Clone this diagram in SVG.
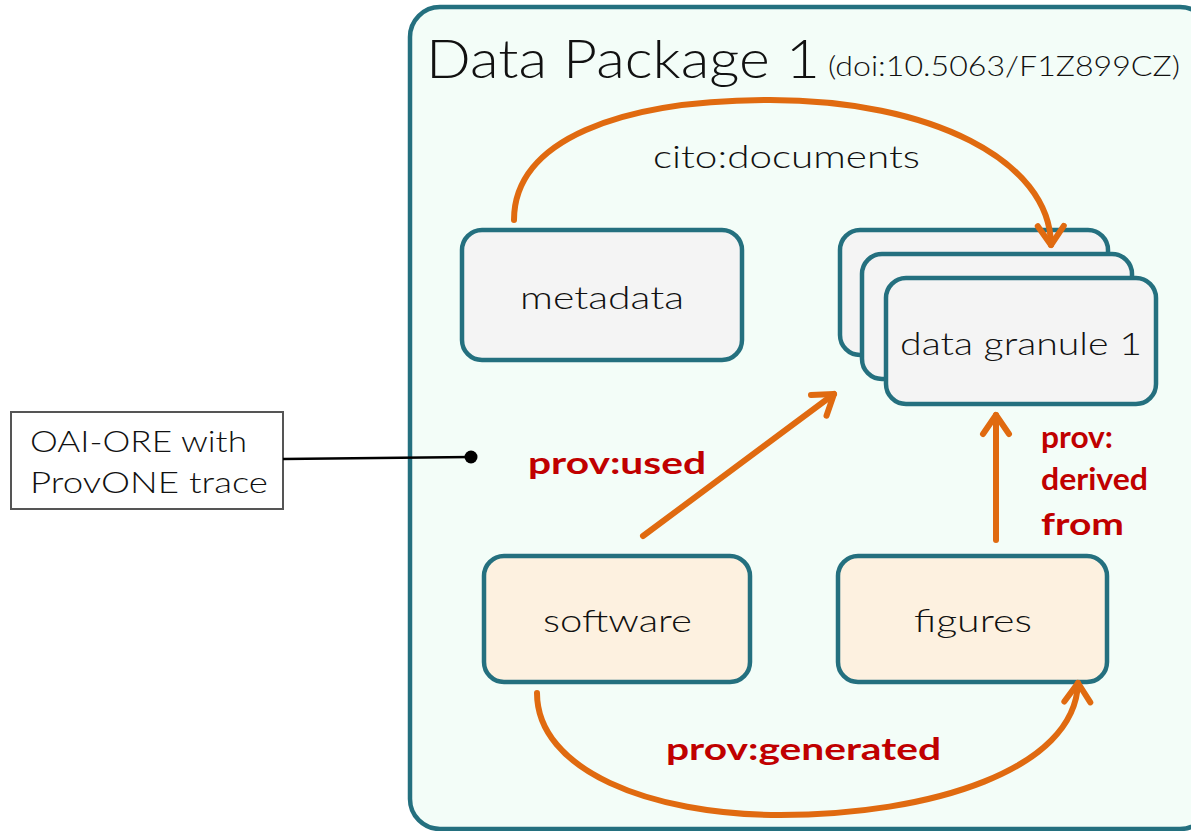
<svg xmlns="http://www.w3.org/2000/svg" width="1191" height="831" viewBox="0 0 1191 831">
<style>
.node{stroke:#24707f;stroke-width:4.5}
.gray{fill:#f4f4f4}
.cream{fill:#fdf1e0}
.t{font-family:Lato,"Open Sans","Liberation Sans",sans-serif;fill:#111;font-weight:300}
.lbl{font-family:Lato,"Open Sans","Liberation Sans",sans-serif;fill:#c00000;font-weight:bold;font-size:31px}
.arr{fill:none;stroke:#e06a10;stroke-width:6;stroke-linecap:round}
</style>
<defs>
<marker id="ah" markerUnits="userSpaceOnUse" markerWidth="40" markerHeight="40" viewBox="-25 -20 30 40" refX="0" refY="0" orient="auto">
<path d="M-19,-13 L0,0 L-19,13" fill="none" stroke="#e06a10" stroke-width="6" stroke-linecap="round" stroke-linejoin="round"/>
</marker>
</defs>
<g id="package">
<rect x="410" y="7" width="800" height="822" rx="30" fill="#f3fdf8" stroke="#24707f" stroke-width="4.5"/>
<text class="t" x="426" y="78" font-size="54" textLength="394" lengthAdjust="spacingAndGlyphs">Data Package 1</text>
<text class="t" x="828" y="76" font-size="27" textLength="352" lengthAdjust="spacingAndGlyphs">(doi:10.5063/F1Z899CZ)</text>
</g>
<g id="metadata">
<rect class="node gray" x="462" y="230" width="280" height="130" rx="20"/>
<text class="t" x="520" y="309" font-size="32" textLength="164" lengthAdjust="spacingAndGlyphs">metadata</text>
</g>
<g id="granule">
<rect class="node gray" x="840" y="230" width="268" height="125" rx="20"/>
<rect class="node gray" x="862" y="254" width="270" height="125" rx="20"/>
<rect class="node gray" x="886" y="278" width="270" height="126" rx="20"/>
<text class="t" x="900" y="355" font-size="32" textLength="242" lengthAdjust="spacingAndGlyphs">data granule 1</text>
</g>
<g id="software">
<rect class="node cream" x="484" y="556" width="266" height="126" rx="20"/>
<text class="t" x="543" y="632" font-size="32" textLength="149" lengthAdjust="spacingAndGlyphs">software</text>
</g>
<g id="figures">
<rect class="node cream" x="838" y="556" width="269" height="126" rx="20"/>
<text class="t" x="914" y="632" font-size="32" textLength="118" lengthAdjust="spacingAndGlyphs">figures</text>
</g>
<g id="note">
<rect x="11" y="412" width="272" height="97" fill="#fff" stroke="#555" stroke-width="2"/>
<text class="t" x="30" y="452" font-size="30" textLength="217" lengthAdjust="spacingAndGlyphs">OAI-ORE with</text>
<text class="t" x="30" y="493" font-size="30" textLength="238" lengthAdjust="spacingAndGlyphs">ProvONE trace</text>
</g>
<g id="connectors">
<line x1="283" y1="459" x2="471" y2="457" stroke="#000" stroke-width="2.5"/>
<circle cx="471" cy="457" r="6.5" fill="#000"/>
<path class="arr" d="M514,220 C514,140 620,100 770,100 C930,100 1050,160 1051,245" marker-end="url(#ah)"/>
<path class="arr" d="M643,536 L834,394" marker-end="url(#ah)"/>
<path class="arr" d="M996,540 L996,415" marker-end="url(#ah)"/>
<path class="arr" d="M537,693 C537,770 650,815 780,815 C930,815 1075,770 1078,683" marker-end="url(#ah)"/>
<text class="t" x="653" y="168" font-size="31" textLength="267" lengthAdjust="spacingAndGlyphs">cito:documents</text>
<text class="lbl" x="528" y="474" textLength="178" lengthAdjust="spacingAndGlyphs">prov:used</text>
<text class="lbl" x="1041" y="448" textLength="72" lengthAdjust="spacingAndGlyphs">prov:</text>
<text class="lbl" x="1041" y="490" textLength="107" lengthAdjust="spacingAndGlyphs">derived</text>
<text class="lbl" x="1041" y="535" textLength="83" lengthAdjust="spacingAndGlyphs">from</text>
<text class="lbl" x="666" y="760" textLength="275" lengthAdjust="spacingAndGlyphs">prov:generated</text>
</g>
</svg>
